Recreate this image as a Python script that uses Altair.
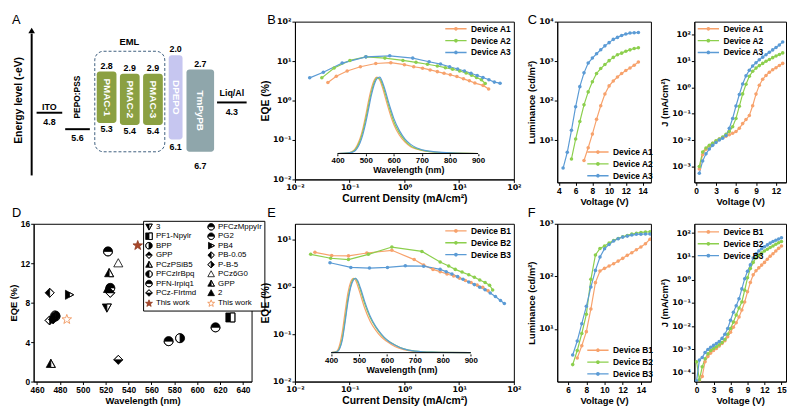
import math
import altair as alt
import pandas as pd

FONT = "Liberation Sans"
ORANGE, GREEN, BLUE = "#F7A26C", "#8CCF4D", "#5B9BD5"
SUPS = "['⁻⁵','⁻⁴','⁻³','⁻²','⁻¹','⁰','¹','²','³','⁴','⁵'][round(log(datum.value)/LN10)+5]"
LOG_LABEL = "'10' + " + SUPS
LEG_PATH = "M-3.6,0H3.6M-0.4,0A0.4,0.4,0,1,0,0.4,0A0.4,0.4,0,1,0,-0.4,0"

# ---------------- data: panel A (energy levels, eV) ----------------
layer_names = ["PMAC-1", "PMAC-2", "PMAC-3", "DPEPO", "TmPyPB"]
layer_lumo = [2.8, 2.9, 2.9, 2.0, 2.7]
layer_homo = [5.3, 5.4, 5.4, 6.1, 6.7]
electrode_names = ["ITO", "PEPO:PSS", "Liq/Al"]
electrode_levels = [4.8, 5.6, 4.3]

# ---------------- data: panel B (EQE vs J) ----------------
B_A1_J = [0.040, 0.057, 0.090, 0.157, 0.30, 0.565, 1.0, 1.48, 2.15, 2.95, 4.0, 5.3, 6.9, 9.1, 12.0, 15.4, 19.4, 27.4, 34.6]
B_A1_EQE = [2.87, 4.14, 5.6, 7.2, 8.7, 9.1, 8.1, 7.2, 6.6, 5.96, 5.4, 4.9, 4.5, 4.05, 3.55, 3.16, 2.77, 2.42, 1.96]
B_A2_J = [0.031, 0.052, 0.101, 0.198, 0.44, 0.94, 1.63, 2.64, 4.0, 5.6, 7.6, 10.2, 13.4, 16.9, 20.8, 25.6, 30.0]
B_A2_EQE = [3.76, 6.7, 10.4, 12.8, 11.9, 10.4, 9.3, 8.3, 7.5, 6.8, 6.2, 5.6, 5.0, 4.4, 3.83, 3.35, 2.7]
B_A3_J = [0.0186, 0.033, 0.073, 0.198, 0.54, 1.42, 2.83, 4.57, 6.7, 9.4, 12.5, 16.5, 21.4, 27.3, 35.0, 44.0, 56.0]
B_A3_EQE = [3.76, 5.2, 8.9, 12.8, 13.6, 11.9, 9.6, 8.4, 7.2, 6.3, 5.6, 4.9, 4.3, 3.83, 3.35, 2.93, 2.75]
SPEC_A_WL = [400, 440, 460, 470, 480, 490, 500, 510, 520, 530, 540, 550, 560, 570, 580, 590, 600, 620, 640, 660, 680, 700, 740, 800, 900]
SPEC_A1 = [0, 0.01, 0.05, 0.11, 0.2, 0.33, 0.5, 0.69, 0.85, 0.96, 1.0, 0.96, 0.86, 0.73, 0.6, 0.48, 0.38, 0.24, 0.15, 0.09, 0.06, 0.04, 0.02, 0.01, 0]
SPEC_A2 = [0, 0.01, 0.04, 0.09, 0.17, 0.29, 0.45, 0.63, 0.8, 0.93, 0.99, 0.98, 0.9, 0.78, 0.65, 0.53, 0.42, 0.27, 0.17, 0.1, 0.065, 0.045, 0.02, 0.01, 0]
SPEC_A3 = [0, 0.008, 0.03, 0.07, 0.14, 0.25, 0.4, 0.58, 0.76, 0.9, 0.98, 1.0, 0.93, 0.82, 0.69, 0.57, 0.46, 0.3, 0.19, 0.12, 0.075, 0.05, 0.025, 0.01, 0]

# ---------------- data: panel C (L-V, J-V) ----------------
C_A1_V = [7.0, 7.5, 8.0, 8.5, 9.0, 9.5, 10.0, 10.5, 11.0, 11.5, 12.0, 12.5, 13.0, 13.5]
C_A1_L = [3.1, 6.5, 14.4, 34, 75, 148, 238, 316, 398, 490, 583, 678, 790, 955]
C_A2_V = [5.5, 6.0, 6.5, 7.0, 7.5, 8.0, 8.5, 9.0, 9.5, 10.0, 10.5, 11.0, 11.5, 12.0, 12.5, 13.0, 13.5]
C_A2_L = [3.4, 10.8, 30, 79, 168, 304, 490, 655, 822, 1035, 1250, 1460, 1600, 1795, 1937, 2090, 2180]
C_A3_V = [4.5, 5.0, 5.5, 6.0, 6.5, 7.0, 7.5, 8.0, 8.5, 9.0, 9.5, 10.0, 10.5, 11.0, 11.5, 12.0, 12.5, 13.0, 13.5]
C_A3_L = [2.0, 5.0, 18, 71, 228, 508, 900, 1200, 1545, 1945, 2445, 2950, 3560, 4000, 4490, 4850, 5140, 5240, 5300]
CJ_V = [0.5, 1.0, 1.5, 2.0, 2.5, 3.0, 3.5, 4.0, 4.5, 5.0, 5.5, 6.0, 6.5, 7.0, 7.5, 8.0, 8.5, 9.0, 9.5, 10.0, 10.5, 11.0, 11.5, 12.0, 12.5, 13.0]
CJ_A1 = [8e-4, 2.8e-3, 4.5e-3, 6e-3, 7.5e-3, 9e-3, 0.011, 0.0125, 0.014, 0.016, 0.018, 0.021, 0.028, 0.042, 0.06, 0.085, 0.2, 0.55, 1.2, 2.0, 2.8, 3.7, 4.6, 5.5, 6.7, 8.0]
CJ_A2 = [1e-3, 3.5e-3, 5e-3, 6.3e-3, 7.6e-3, 9.3e-3, 0.011, 0.013, 0.0165, 0.021, 0.032, 0.066, 0.19, 0.56, 1.3, 2.6, 4.0, 5.3, 6.6, 8.0, 9.6, 11.3, 13.2, 15.2, 17.5, 20.0]
CJ_A3 = [5.5e-4, 1.6e-3, 3e-3, 4.6e-3, 6.3e-3, 8.1e-3, 0.010, 0.0118, 0.0148, 0.028, 0.066, 0.195, 0.53, 1.32, 2.7, 4.4, 6.4, 8.5, 11.0, 13.8, 17.0, 21.0, 26.0, 32.0, 40.0, 52.0]

# ---------------- data: panel D (literature comparison) ----------------
D_LABEL = ["PB-0.05", "PB4", "P-B-5", "PCz-FIrtmd", "BPP", "This work ", "GPP ", "PG2", "This work",
           "PCz6G0", "PCzPSiB5", "2", "PFN-Irpiq1", "GPP", "3", "PCz-FIrtmd", "PFN-Irpiq1", "BPP",
           "PFCzMppyIr", "PF1-Npylr", "PFCzIrBpq"]
D_WL = [471, 488, 471, 474, 476, 486, 472, 522, 548, 531, 523, 522, 524, 524, 521, 531, 575, 585, 616, 629, 476]
D_EQE = [9.0, 8.8, 6.2, 6.3, 6.7, 6.3, 1.8, 13.2, 13.8, 12.0, 11.0, 9.4, 9.5, 9.0, 7.5, 2.2, 4.1, 4.4, 5.5, 6.5, 6.6]
LEG_COL1 = ["3", "PF1-Npylr", "BPP", "GPP", "PCzPSiB5", "PFCzIrBpq", "PFN-Irpiq1", "PCz-FIrtmd", "This work"]
LEG_COL2 = ["PFCzMppyIr", "PG2", "PB4", "PB-0.05", "P-B-5", "PCz6G0", "GPP ", "2", "This work "]

# ---------------- data: panel E ----------------
E_B1_J = [0.0232, 0.047, 0.095, 0.206, 0.59, 1.51, 2.25, 3.33, 4.5, 6.0, 7.95, 10.2, 13.0, 16.5, 21.3, 27.0, 33.8]
E_B1_EQE = [5.26, 4.5, 4.43, 5.1, 5.8, 3.7, 2.83, 2.3, 2.06, 1.84, 1.67, 1.5, 1.34, 1.22, 1.08, 0.97, 0.82]
E_B2_J = [0.0194, 0.045, 0.095, 0.22, 0.59, 2.09, 4.5, 6.45, 8.5, 11.3, 15.0, 19.0, 23.8, 29.8, 36.0, 41.0]
E_B2_EQE = [4.78, 3.95, 3.7, 4.78, 6.8, 5.5, 3.3, 2.7, 2.3, 2.02, 1.78, 1.57, 1.38, 1.22, 1.07, 0.85]
E_B3_J = [0.0437, 0.105, 0.23, 0.49, 1.04, 2.25, 4.5, 5.8, 7.4, 9.4, 11.8, 15.0, 19.0, 23.8, 29.8, 37.0, 46.0, 57.0, 67.0]
E_B3_EQE = [3.17, 2.53, 2.45, 2.53, 2.74, 2.69, 2.3, 2.06, 1.84, 1.62, 1.43, 1.25, 1.1, 0.97, 0.855, 0.73, 0.62, 0.51, 0.44]
SPEC_B_WL = [400, 420, 430, 440, 450, 460, 470, 480, 487, 495, 505, 520, 540, 560, 580, 600, 630, 660, 700, 760, 900]
SPEC_B1 = [0, 0.02, 0.1, 0.28, 0.55, 0.8, 0.95, 1.0, 0.98, 0.9, 0.78, 0.6, 0.42, 0.3, 0.21, 0.15, 0.08, 0.04, 0.015, 0.005, 0]
SPEC_B2 = [0, 0.01, 0.06, 0.2, 0.45, 0.72, 0.9, 0.99, 1.0, 0.95, 0.84, 0.66, 0.47, 0.34, 0.24, 0.17, 0.1, 0.05, 0.02, 0.006, 0]
SPEC_B3 = [0, 0.01, 0.05, 0.17, 0.41, 0.68, 0.88, 0.98, 1.0, 0.97, 0.87, 0.69, 0.49, 0.35, 0.25, 0.17, 0.1, 0.05, 0.02, 0.006, 0]

# ---------------- data: panel F ----------------
F_B1_V = [7.0, 7.5, 8.0, 8.5, 9.0, 9.5, 10.0, 10.5, 11.0, 11.5, 12.0, 12.5, 13.0, 13.5, 14.0, 14.5, 15.0]
F_B1_L = [2.8, 4.8, 8.9, 24, 76, 127, 142, 157, 174, 195, 220, 251, 282, 321, 361, 417, 510]
F_B23_V = [6.5, 7.0, 7.5, 8.0, 8.5, 9.0, 9.5, 10.0, 10.5, 11.0, 11.5, 12.0, 12.5, 13.0, 13.5, 14.0, 14.5, 15.0]
F_B2_L = [2.1, 3.9, 8.2, 19, 88, 255, 340, 378, 430, 483, 527, 566, 601, 636, 661, 685, 695, 705]
F_B3_L = [3.2, 5.9, 12.6, 27, 63, 130, 233, 336, 405, 470, 519, 558, 583, 610, 630, 635, 640, 640]
FJ_V = [0.0, 0.5, 1.0, 1.5, 2.0, 2.5, 3.0, 3.5, 4.0, 4.5, 5.0, 5.5, 6.0, 6.5, 7.0, 7.5, 8.0, 8.5, 9.0, 9.5,
        10.0, 10.5, 11.0, 11.5, 12.0, 12.5, 13.0, 13.5, 14.0, 14.5, 15.0]
FJ_B1 = [None, 4.5e-5, 7e-5, 3e-4, 5e-4, 7e-4, 9e-4, 1.1e-3, 1.4e-3, 1.8e-3, 2.4e-3, 3.5e-3, 5.5e-3, 9e-3, 0.014, 0.025,
         0.05, 0.11, 0.3, 0.75, 1.6, 2.4, 3.2, 4.2, 5.5, 7.5, 10, 13, 17, 22, 28]
FJ_B2 = [3e-4, 5e-5, 1.8e-4, 4e-4, 6.5e-4, 9e-4, 1.1e-3, 1.3e-3, 1.6e-3, 2e-3, 2.7e-3, 4.5e-3, 8e-3, 0.015, 0.03, 0.06,
         0.11, 0.35, 1.2, 3.0, 5.5, 8.5, 11, 14, 17, 20, 24, 28, 33, 38, 43]
FJ_B3 = [4.5e-5, 3.5e-4, 4.5e-4, 7.5e-4, 1.0e-3, 1.25e-3, 1.5e-3, 1.8e-3, 2.2e-3, 3e-3, 4.5e-3, 8e-3, 0.018, 0.04, 0.075,
         0.15, 0.4, 1.1, 2.3, 4.3, 8.5, 13, 17, 21, 26, 31, 37, 43, 49, 56, 63]

# ---------------- layout (px) ----------------
W1, W2, W3, W4 = 221, 222, 95, 93
H_ROW1, H_B, H_ROW2 = 163, 160, 160
A_PX_PER_EV = 20.85
layer_x0 = [94, 117.5, 141, 167, 185]
layer_x1 = [114, 137.5, 161, 181, 213]
layer_fill = ["#8BA042", "#8BA042", "#8BA042", "#C6C6F0", "#8FA6AB"]
layer_top_off = [-6, -6, -6, -6, -6]
layer_bot_off = [6, 6, 6, 8, 14]
electrode_x0 = [33, 62, 216]
electrode_x1 = [59, 87, 246]
electrode_name_off = [-6, None, -10]
electrode_val_off = [9, 9, 10]


def letter(s, dx, dy):
    return alt.Chart(pd.DataFrame({"t": [s]})).mark_text(
        font=FONT, fontSize=13, align="left", baseline="alphabetic", color="black"
    ).encode(text="t:N", x=alt.value(dx), y=alt.value(dy))


def long_df(names, xs_list, ys_list, xn="x", yn="y"):
    rows = []
    for n, xs, ys in zip(names, xs_list, ys_list):
        for a, b in zip(xs, ys):
            if b is not None:
                rows.append({xn: a, yn: b, "dev": n})
    return pd.DataFrame(rows)


def dev_legend(lx, ly):
    return alt.Legend(title=None, orient="none", legendX=lx, legendY=ly, symbolType=LEG_PATH,
                      symbolSize=36, symbolStrokeWidth=1.4, labelOffset=11, rowPadding=3,
                      labelFont=FONT, labelFontSize=8.5, labelFontWeight="bold", padding=0)


def log_axis(title, values, **kw):
    return alt.Axis(title=title, values=values, labelExpr=LOG_LABEL, labelFont="DejaVu Sans",
                    labelFontSize=8, **kw)


def curves(df, names, xsc, ysc, xax, yax, leg):
    return alt.Chart(df).mark_line(strokeWidth=1.2, clip=True,
                                   point=alt.OverlayMarkDef(size=13, filled=True, clip=True)).encode(
        x=alt.X("x:Q", scale=xsc, axis=xax),
        y=alt.Y("y:Q", scale=ysc, axis=yax),
        color=alt.Color("dev:N", scale=alt.Scale(domain=names, range=[ORANGE, GREEN, BLUE]), legend=leg),
    )


# ---------------- panel A ----------------
AX = alt.Scale(domain=[30, 251], nice=False, zero=False)
AY = alt.Scale(domain=[0.3693, 8.187], reverse=True, nice=False, zero=False)


def ax(f):
    return alt.X(f, scale=AX, axis=None)


def ay(f):
    return alt.Y(f, scale=AY, axis=None)


lay = pd.DataFrame({"name": layer_names, "lumo": layer_lumo, "homo": layer_homo,
                    "x0": layer_x0, "x1": layer_x1, "fill": layer_fill})
lay["xc"] = (lay.x0 + lay.x1) / 2
lay["ym"] = (lay.lumo + lay.homo) / 2
lay["yt"] = lay.lumo + pd.Series(layer_top_off) / A_PX_PER_EV
lay["yb"] = lay.homo + pd.Series(layer_bot_off) / A_PX_PER_EV
lay["lt"] = lay.lumo.map(lambda v: f"{v:.1f}")
lay["lb"] = lay.homo.map(lambda v: f"{v:.1f}")

ele = pd.DataFrame({"name": electrode_names, "lvl": electrode_levels, "x0": electrode_x0, "x1": electrode_x1})
ele["xc"] = (ele.x0 + ele.x1) / 2
ele["yv"] = ele.lvl + pd.Series(electrode_val_off) / A_PX_PER_EV
ele["lv"] = ele.lvl.map(lambda v: f"{v:.1f}")
ele_names = ele[[o is not None for o in electrode_name_off]].copy()
ele_names["yn"] = [l + o / A_PX_PER_EV for l, o in zip(electrode_levels, electrode_name_off) if o is not None]

a_num_style = dict(font=FONT, fontSize=9, fontWeight="bold", color="black")
A_layers = [
    alt.Chart(pd.DataFrame({"x0": [92], "x1": [163], "e0": [1.81], "e1": [6.70]})).mark_rect(
        fillOpacity=0, stroke="#3E5E7E", strokeWidth=1, strokeDash=[3, 2], cornerRadius=9
    ).encode(x=ax("x0:Q"), x2="x1:Q", y=ay("e0:Q"), y2="e1:Q"),
    alt.Chart(lay).mark_rect(cornerRadius=3).encode(
        x=ax("x0:Q"), x2="x1:Q", y=ay("lumo:Q"), y2="homo:Q", fill=alt.Fill("fill:N", scale=None)),
    alt.Chart(lay).mark_text(angle=90, color="white", font=FONT, fontSize=10, fontWeight="bold").encode(
        x=ax("xc:Q"), y=ay("ym:Q"), text="name:N"),
    alt.Chart(lay).mark_text(baseline="middle", **a_num_style).encode(x=ax("xc:Q"), y=ay("yt:Q"), text="lt:N"),
    alt.Chart(lay).mark_text(baseline="middle", **a_num_style).encode(x=ax("xc:Q"), y=ay("yb:Q"), text="lb:N"),
    alt.Chart(ele).mark_rule(color="black", strokeWidth=2).encode(x=ax("x0:Q"), x2="x1:Q", y=ay("lvl:Q")),
    alt.Chart(ele).mark_text(baseline="middle", **a_num_style).encode(x=ax("xc:Q"), y=ay("yv:Q"), text="lv:N"),
    alt.Chart(ele_names).mark_text(baseline="middle", **a_num_style).encode(x=ax("xc:Q"), y=ay("yn:Q"), text="name:N"),
    alt.Chart(pd.DataFrame({"x": [74], "e": [4.04], "t": ["PEPO:PSS"]})).mark_text(
        angle=270, baseline="middle", font=FONT, fontSize=8.5, fontWeight="bold", color="black").encode(
        x=ax("x:Q"), y=ay("e:Q"), text="t:N"),
    alt.Chart(pd.DataFrame({"x": [127], "e": [1.376], "t": ["EML"]})).mark_text(
        baseline="middle", font=FONT, fontSize=9.5, fontWeight="bold", color="black").encode(
        x=ax("x:Q"), y=ay("e:Q"), text="t:N"),
    alt.Chart(pd.DataFrame({"x": [15], "e": [4.2], "t": ["Energy level (-eV)"]})).mark_text(
        angle=270, baseline="middle", font=FONT, fontSize=10.5, fontWeight="bold", color="black").encode(
        x=ax("x:Q"), y=ay("e:Q"), text="t:N"),
    alt.Chart(pd.DataFrame({"x": [28], "e0": [7.85], "e1": [0.95]})).mark_rule(color="black", strokeWidth=2).encode(
        x=ax("x:Q"), y=ay("e0:Q"), y2="e1:Q"),
    alt.Chart(pd.DataFrame({"x": [28], "e": [0.80]})).mark_point(shape="triangle-up", filled=True, size=45,
                                                               color="black", opacity=1).encode(
        x=ax("x:Q"), y=ay("e:Q")),
    letter("A", -22, 2),
    alt.Chart(pd.DataFrame({"t": [0]})).mark_rule(strokeOpacity=0, strokeWidth=1).encode(
        x=alt.value(-21.5), y=alt.value(-8.5), y2=alt.value(-6)),
]
A = alt.layer(*A_layers).properties(width=W1, height=H_ROW1, view=alt.ViewBackground(stroke="transparent"))


# ---------------- panel B / E helper ----------------
def eqe_panel(names, Js, Es, wl, specs, ydom, yvals, inset_dom_x, inset_dom_y, inset_off, title_x, lx, ly, let, height):
    df = long_df(names, Js, Es)
    main = curves(df, names,
                  alt.Scale(type="log", domain=[0.01, 100], nice=False),
                  alt.Scale(type="log", domain=ydom, nice=False),
                  log_axis("Current Density (mA/cm²)", [0.01, 0.1, 1, 10, 100], titleFontSize=10.5),
                  log_axis("EQE (%)", yvals, titleFontSize=10.5),
                  dev_legend(lx, ly))
    sdf = long_df(names, [wl, wl, wl], specs, "wl", "I")
    inset_axis = alt.Axis(orient="bottom", offset=inset_off, values=[400, 500, 600, 700, 800, 900], domain=False,
                          tickSize=2, title="Wavelength (nm)", titleX=title_x, labelFontSize=8,
                          titleFontSize=9, titlePadding=1, labelPadding=1)
    xs = alt.Scale(domain=inset_dom_x, nice=False, zero=False)
    ys = alt.Scale(domain=inset_dom_y, nice=False, zero=False)
    spec = alt.Chart(sdf).mark_line(strokeWidth=1.2, interpolate="monotone").encode(
        x=alt.X("wl:Q", scale=xs, axis=inset_axis),
        y=alt.Y("I:Q", scale=ys, axis=None),
        color=alt.Color("dev:N", scale=alt.Scale(domain=names, range=[ORANGE, GREEN, BLUE]),
                        legend=dev_legend(lx, ly)),
    )
    rule = alt.Chart(pd.DataFrame({"a": [400], "b": [900], "z": [0]})).mark_rule(
        color="black", strokeWidth=1).encode(
        x=alt.X("a:Q", scale=xs, axis=inset_axis), x2="b:Q", y=alt.Y("z:Q", scale=ys, axis=None))
    return alt.layer(alt.layer(main, let), alt.layer(spec, rule)).resolve_scale(
        x="independent", y="independent").properties(width=W2, height=height)


B = eqe_panel(["Device A1", "Device A2", "Device A3"], [B_A1_J, B_A2_J, B_A3_J], [B_A1_EQE, B_A2_EQE, B_A3_EQE],
              SPEC_A_WL, [SPEC_A1, SPEC_A2, SPEC_A3], [0.01, 100], [0.01, 0.1, 1, 10, 100],
              [248, 1027.5], [-0.339, 1.727], -26, 115, 159, 3, letter("B", -28, 2), H_B)
E = eqe_panel(["Device B1", "Device B2", "Device B3"], [E_B1_J, E_B2_J, E_B3_J], [E_B1_EQE, E_B2_EQE, E_B3_EQE],
              SPEC_B_WL, [SPEC_B1, SPEC_B2, SPEC_B3], [0.01, 21], [0.01, 0.1, 1, 10],
              [270.4, 1054.3], [-0.389, 1.734], -28, 108, 159, 3, letter("E", -28, -7), H_ROW2)


# ---------------- panels C / F ----------------
def iv_panel(names, xs_list, ys_list, xdom, xvals, ydom, yvals, ytitle, lx, ly, let, width, height):
    df = long_df(names, xs_list, ys_list)
    c = curves(df, names,
               alt.Scale(domain=xdom, nice=False, zero=False),
               alt.Scale(type="log", domain=ydom, nice=False),
               alt.Axis(title="Voltage (V)", values=xvals),
               log_axis(ytitle, yvals),
               dev_legend(lx, ly))
    return alt.layer(c, let).properties(width=width, height=height)


A_names = ["Device A1", "Device A2", "Device A3"]
B_names = ["Device B1", "Device B2", "Device B3"]
C1 = iv_panel(A_names, [C_A1_V, C_A2_V, C_A3_V], [C_A1_L, C_A2_L, C_A3_L], [3.8, 15], [4, 6, 8, 10, 12, 14],
              [0.87, 10000], [10, 100, 1000, 10000], "Luminance (cd/m²)", 37, 128, letter("C", -30, 2), W3, H_ROW1)
C2 = iv_panel(A_names, [CJ_V, CJ_V, CJ_V], [CJ_A1, CJ_A2, CJ_A3], [-0.25, 13.5], [0, 3, 6, 9, 12],
              [2.5e-4, 305], [1e-3, 1e-2, 0.1, 1, 10, 100], "J (mA/cm²)", 10, 3, letter("", 0, 0), W4, H_ROW1)
F1 = iv_panel(B_names, [F_B1_V, F_B23_V, F_B23_V], [F_B1_L, F_B2_L, F_B3_L], [4.8, 15.1], [6, 8, 10, 12, 14],
              [1, 1000], [10, 100, 1000], "Luminance (cd/m²)", 37, 124, letter("F", -30, -7), W3, H_ROW2)
F2 = iv_panel(B_names, [FJ_V, FJ_V, FJ_V], [FJ_B1, FJ_B2, FJ_B3], [-0.4, 15.8], [0, 3, 6, 9, 12, 15],
              [4.2e-5, 250], [1e-4, 1e-3, 1e-2, 0.1, 1, 10, 100], "J (mA/cm²)", 10, 4, letter("", 0, 0), W4, H_ROW2)

# ---------------- panel D ----------------
CIRCLE = "M-1,0A1,1,0,1,1,1,0A1,1,0,1,1,-1,0Z"
SQUARE = "M-1,-1L1,-1L1,1L-1,1Z"
TRI_DOWN = "M-1,-0.8L1,-0.8L0,1Z"
TRI_UP = "M0,-1L1,0.8L-1,0.8Z"
DIAMOND = "M0,-1L1,0L0,1L-1,0Z"
TRI_RIGHT = "M-0.8,-1L1,0L-0.8,1Z"


def star_path(r_out=1.1, r_in=0.45):
    pts = []
    for k in range(10):
        ang = math.radians(-90 + 36 * k)
        r = r_out if k % 2 == 0 else r_in
        pts.append((r * math.cos(ang), r * math.sin(ang)))
    return "M" + "L".join(f"{x:.3f},{y:.3f}" for x, y in pts) + "Z"


STAR = star_path()
SHAPE = {
    "3": TRI_DOWN + "M0,-0.8L0,1L1,-0.8Z",
    "PF1-Npylr": SQUARE + "M0,-1L0,1L1,1L1,-1Z",
    "BPP": CIRCLE + "M0,-1A1,1,0,0,0,0,1Z",
    "GPP": DIAMOND + "M-1,0L0,1L1,0Z",
    "PCzPSiB5": TRI_UP + "M0,-1L0,0.8L1,0.8Z",
    "PFCzIrBpq": CIRCLE + "M0,1A1,1,0,0,0,0,-1Z",
    "PFN-Irpiq1": CIRCLE + "M-1,0A1,1,0,0,0,1,0Z",
    "PCz-FIrtmd": DIAMOND + "M1,0L0,-1L-1,0Z",
    "This work": STAR,
    "PFCzMppyIr": CIRCLE + "M-1,0A1,1,0,0,0,1,0Z",
    "PG2": CIRCLE + "M-1,0A1,1,0,0,0,1,0Z",
    "PB4": TRI_RIGHT + "M0.1,-0.5L0.1,0.5L1,0Z",
    "PB-0.05": DIAMOND + "M0,-1L0,1L1,0Z",
    "P-B-5": DIAMOND + "M0,1L0,-1L-1,0Z",
    "PCz6G0": TRI_UP,
    "GPP ": TRI_UP + "M0,-1L0,0.8L1,0.8Z",
    "2": TRI_UP,
    "This work ": STAR,
}
FILL = {k: "black" for k in SHAPE}
FILL.update({"PCz6G0": "white", "This work": "#A9472A", "This work ": "white"})
STROKE = {k: "black" for k in SHAPE}
STROKE.update({"This work": "#8E3A20", "This work ": "#EE8A4A"})
D_DOMAIN = LEG_COL1 + LEG_COL2

d_leg = alt.Legend(title=None, orient="none", legendX=111, legendY=-3, columns=2, strokeColor="black",
                   fillColor="white", padding=2, symbolSize=45, symbolStrokeWidth=0.8, labelFont=FONT,
                   labelFontSize=8, labelFontWeight="normal", rowPadding=-0.4, columnPadding=9, labelOffset=3)
ddf = pd.DataFrame({"label": D_LABEL, "wl": D_WL, "eqe": D_EQE})
D_pts = alt.Chart(ddf).mark_point(size=85, filled=True, strokeWidth=0.8, opacity=1).encode(
    x=alt.X("wl:Q", scale=alt.Scale(domain=[457, 647.5], nice=False, zero=False),
            axis=alt.Axis(title="Wavelength (nm)", values=list(range(460, 641, 20)))),
    y=alt.Y("eqe:Q", scale=alt.Scale(domain=[0, 16], nice=False),
            axis=alt.Axis(title="EQE (%)", values=[0, 4, 8, 12, 16])),
    shape=alt.Shape("label:N", scale=alt.Scale(domain=D_DOMAIN, range=[SHAPE[k] for k in D_DOMAIN]), legend=d_leg),
    fill=alt.Fill("label:N", scale=alt.Scale(domain=D_DOMAIN, range=[FILL[k] for k in D_DOMAIN]), legend=d_leg),
    stroke=alt.Stroke("label:N", scale=alt.Scale(domain=D_DOMAIN, range=[STROKE[k] for k in D_DOMAIN]), legend=d_leg),
)
D = alt.layer(D_pts, letter("D", -22, -7)).properties(width=W1, height=H_ROW2)

chart = alt.concat(A, B, C1, C2, D, E, F1, F2, columns=4, spacing={"row": 42, "column": 44}, bounds="flush")
chart = chart.resolve_scale(color="independent", fill="independent", stroke="independent", shape="independent")
chart = chart.properties(padding=0, background="white")
chart = chart.configure_view(stroke="black", strokeWidth=1).configure_axis(
    labelFont=FONT, labelFontSize=8.5, labelFontWeight="bold", labelColor="black",
    titleFont=FONT, titleFontSize=9.5, titleFontWeight="bold", titleColor="black",
    domainColor="black", tickColor="black", tickSize=3, labelPadding=1, titlePadding=2,
    grid=False, labelFlush=False
)
chart.save("out.html", embed_options={"renderer": "svg", "actions": False})
